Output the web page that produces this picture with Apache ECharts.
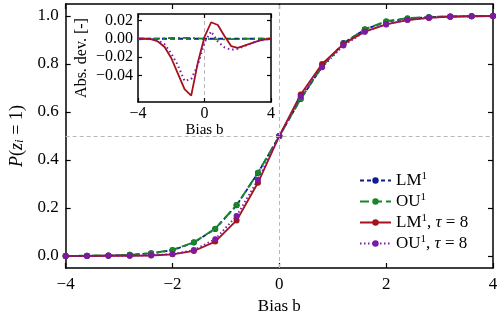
<!DOCTYPE html>
<html>
<head>
<meta charset="utf-8">
<script src="https://cdn.jsdelivr.net/npm/echarts@6/dist/echarts.min.js"></script>
<style>
  html, body { margin: 0; padding: 0; background: #fff; }
  #chart { width: 503px; height: 322px; }
</style>
</head>
<body>
<div id="chart"></div>
<script>
// bias values (same grid for main plot and inset)
const bias = [-4, -3.6, -3.2, -2.8, -2.4, -2.0, -1.6, -1.2, -0.8, -0.4, 0, 0.4, 0.8, 1.2, 1.6, 2.0, 2.4, 2.8, 3.2, 3.6, 4];

// P(z_i = 1)
const lm1 = [0, 0.001, 0.002, 0.005, 0.011, 0.024, 0.056, 0.113, 0.211, 0.346, 0.5, 0.654, 0.789, 0.887, 0.944, 0.976, 0.989, 0.995, 0.998, 0.999, 1.0];
const ou1 = [0, 0.001, 0.002, 0.005, 0.011, 0.025, 0.057, 0.114, 0.212, 0.347, 0.5, 0.655, 0.790, 0.885, 0.945, 0.978, 0.991, 0.996, 0.998, 0.999, 1.0];
const lm1Tau8 = [0, 0, 0.001, 0.001, 0.002, 0.007, 0.021, 0.060, 0.148, 0.305, 0.5, 0.673, 0.800, 0.883, 0.935, 0.965, 0.983, 0.992, 0.997, 0.999, 1.0];
const ou1Tau8 = [0, 0, 0.001, 0.001, 0.003, 0.008, 0.025, 0.070, 0.167, 0.318, 0.5, 0.665, 0.786, 0.877, 0.934, 0.966, 0.984, 0.993, 0.997, 0.999, 1.0];

// inset: absolute deviation
const devLm1 = [0, 0, 0, 0, 0, 0, 0, 0, 0, 0, 0, 0, 0, 0, 0, 0, 0, 0, 0, 0, 0];
const devOu1 = [0, 0, 0, 0.0002, 0.0005, 0.0008, 0.001, 0.001, 0.0008, 0.0004, 0, -0.0004, -0.0006, -0.0006, -0.0004, -0.0002, 0, 0, 0, 0, 0];
const devLm1Tau8 = [0, 0, -0.0005, -0.003, -0.009, -0.021, -0.038, -0.055, -0.062, -0.026, 0.002, 0.018, 0.015, 0.003, -0.008, -0.010, -0.0076, -0.005, -0.0027, -0.0008, 0];
const devOu1Tau8 = [0, 0, -0.0005, -0.002, -0.006, -0.016, -0.029, -0.046, -0.044, -0.0285, -0.004, 0.008, -0.003, -0.0094, -0.012, -0.011, -0.008, -0.005, -0.0025, -0.001, 0];

const xTicks = [-4, -2, 0, 2, 4];
const yTicks = [0, 0.2, 0.4, 0.6, 0.8, 1.0];
const insetXTicks = [-4, 0, 4];
const insetYTicks = [-0.04, -0.02, 0, 0.02];

const names = ['LM1', 'OU1', 'LM1t', 'OU1t'];
const colors = ['#0c1f8a', '#17862b', '#a4121b', '#7a1aa6'];

const font = 'Liberation Serif';
const minus = v => String(v).replace('-', '\u2212');
const pairs = ys => bias.map((b, i) => [b, ys[i]]);

function axis(extra) {
  return Object.assign({
    type: 'value',
    splitLine: { show: false },
    axisLine: { show: true, onZero: false, lineStyle: { color: '#000', width: 1.5 } },
    axisTick: { show: true, inside: true, length: 5, lineStyle: { color: '#000', width: 1.2 } },
    axisLabel: { show: false }
  }, extra);
}

const chart = echarts.init(document.getElementById('chart'));

const option = {
  animation: false,
  backgroundColor: '#fff',
  grid: [
    { left: 63, right: 10, top: 4, bottom: 54 },
    { left: 138, right: 232, top: 14, bottom: 220, show: true, backgroundColor: '#fff', borderWidth: 0, z: 5 }
  ],
  xAxis: [
    axis({ gridIndex: 0, min: -4, max: 4, position: 'bottom',
      axisTick: { show: true, inside: true, length: 5, customValues: xTicks, lineStyle: { color: '#000', width: 1.2 } },
      axisLabel: { show: true, customValues: xTicks, margin: 8, color: '#000', fontFamily: font, fontSize: 17, formatter: minus },
      name: 'Bias b', nameLocation: 'middle', nameGap: 26,
      nameTextStyle: { color: '#000', fontFamily: font, fontSize: 17 } }),
    axis({ gridIndex: 0, min: -4, max: 4, position: 'top',
      axisTick: { show: true, inside: true, length: 5, customValues: xTicks, lineStyle: { color: '#000', width: 1.2 } } }),
    axis({ gridIndex: 1, min: -4, max: 4, position: 'bottom', z: 6,
      axisTick: { show: true, inside: true, length: 4, customValues: insetXTicks, lineStyle: { color: '#000', width: 1.2 } },
      axisLabel: { show: true, customValues: insetXTicks, margin: 4, color: '#000', fontFamily: font, fontSize: 16, formatter: minus },
      name: 'Bias b', nameLocation: 'middle', nameGap: 16,
      nameTextStyle: { color: '#000', fontFamily: font, fontSize: 15 } }),
    axis({ gridIndex: 1, min: -4, max: 4, position: 'top', z: 6,
      axisTick: { show: true, inside: true, length: 4, customValues: insetXTicks, lineStyle: { color: '#000', width: 1.2 } } })
  ],
  yAxis: [
    axis({ gridIndex: 0, min: -0.05, max: 1.05, position: 'left',
      axisTick: { show: true, inside: true, length: 5, customValues: yTicks, lineStyle: { color: '#000', width: 1.2 } },
      axisLabel: { show: true, customValues: yTicks, margin: 7, color: '#000', fontFamily: font, fontSize: 17, formatter: v => v.toFixed(1) },
      name: '{i|P}({i|z}{s|i} = 1)', nameLocation: 'middle', nameGap: 38, nameRotate: 90,
      nameTextStyle: { color: '#000', fontFamily: font, fontSize: 18,
        rich: { i: { fontFamily: font, fontSize: 18, fontStyle: 'italic', color: '#000' },
                s: { fontFamily: font, fontSize: 13, fontStyle: 'italic', color: '#000', verticalAlign: 'bottom', padding: [6, 0, 0, 0] } } } }),
    axis({ gridIndex: 0, min: -0.05, max: 1.05, position: 'right',
      axisTick: { show: true, inside: true, length: 5, customValues: yTicks, lineStyle: { color: '#000', width: 1.2 } } }),
    axis({ gridIndex: 1, min: -0.069, max: 0.027, position: 'left', z: 6,
      axisTick: { show: true, inside: true, length: 4, customValues: insetYTicks, lineStyle: { color: '#000', width: 1.2 } },
      axisLabel: { show: true, customValues: insetYTicks, margin: 5, color: '#000', fontFamily: font, fontSize: 16, formatter: v => minus(v.toFixed(2)) },
      name: 'Abs. dev. [-]', nameLocation: 'middle', nameGap: 48, nameRotate: 90,
      nameTextStyle: { color: '#000', fontFamily: font, fontSize: 16 } }),
    axis({ gridIndex: 1, min: -0.069, max: 0.027, position: 'right', z: 6,
      axisTick: { show: true, inside: true, length: 4, customValues: insetYTicks, lineStyle: { color: '#000', width: 1.2 } } })
  ],
  legend: {
    orient: 'vertical',
    left: 354, top: 166,
    itemWidth: 31, itemHeight: 8, itemGap: 3,
    data: names,
    textStyle: { color: '#000', fontFamily: font, fontSize: 17,
      rich: {
        t: { fontFamily: font, fontSize: 17, color: '#000' },
        i: { fontFamily: font, fontSize: 17, fontStyle: 'italic', color: '#000' },
        s: { fontFamily: font, fontSize: 11, color: '#000', verticalAlign: 'top', padding: [0, 0, 8, 0] }
      } },
    formatter: n => ({
      LM1: '{t|LM}{s|1}',
      OU1: '{t|OU}{s|1}',
      LM1t: '{t|LM}{s|1}{t|, }{i|τ}{t| = 8}',
      OU1t: '{t|OU}{s|1}{t|, }{i|τ}{t| = 8}'
    })[n]
  },
  series: [
    { name: 'LM1', type: 'line', xAxisIndex: 0, yAxisIndex: 0, data: pairs(lm1),
      symbol: 'circle', symbolSize: 6, color: colors[0],
      lineStyle: { width: 1.8, type: [4, 3] },
      markLine: { silent: true, symbol: 'none', label: { show: false },
        lineStyle: { color: '#b8b8b8', width: 1, type: [4, 3] },
        data: [{ xAxis: 0 }, { yAxis: 0.5 }] } },
    { name: 'OU1', type: 'line', xAxisIndex: 0, yAxisIndex: 0, data: pairs(ou1),
      symbol: 'circle', symbolSize: 6, color: colors[1],
      lineStyle: { width: 2, type: [9, 4] } },
    { name: 'LM1t', type: 'line', xAxisIndex: 0, yAxisIndex: 0, data: pairs(lm1Tau8),
      symbol: 'circle', symbolSize: 6, color: colors[2],
      lineStyle: { width: 1.8, type: 'solid' } },
    { name: 'OU1t', type: 'line', xAxisIndex: 0, yAxisIndex: 0, data: pairs(ou1Tau8),
      symbol: 'circle', symbolSize: 6, color: colors[3],
      lineStyle: { width: 1.8, type: [1.5, 2.5] } },

    // inset
    { name: 'devLM1', type: 'line', xAxisIndex: 2, yAxisIndex: 2, data: pairs(devLm1), z: 7,
      symbol: 'none', color: colors[0], lineStyle: { width: 1.8, type: [5, 3] },
      markLine: { silent: true, symbol: 'none', label: { show: false },
        lineStyle: { color: '#b8b8b8', width: 1, type: [4, 3] },
        data: [{ xAxis: 0 }] } },
    { name: 'devOU1', type: 'line', xAxisIndex: 2, yAxisIndex: 2, data: pairs(devOu1), z: 7,
      symbol: 'none', color: colors[1], lineStyle: { width: 1.8, type: [7, 3, 2, 3] } },
    { name: 'devLM1t', type: 'line', xAxisIndex: 2, yAxisIndex: 2, data: pairs(devLm1Tau8), z: 7,
      symbol: 'none', color: colors[2], lineStyle: { width: 1.8, type: 'solid' } },
    { name: 'devOU1t', type: 'line', xAxisIndex: 2, yAxisIndex: 2, data: pairs(devOu1Tau8), z: 7,
      symbol: 'none', color: colors[3], lineStyle: { width: 2, type: [1.5, 3] } }
  ]
};

chart.setOption(option);
</script>
</body>
</html>
